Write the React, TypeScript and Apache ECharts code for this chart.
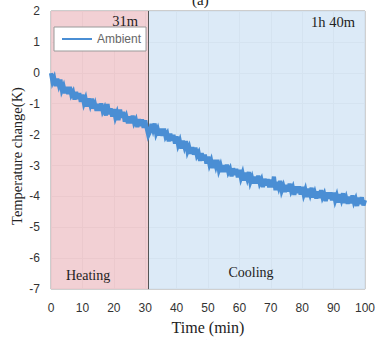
import React, { useEffect, useRef } from "react";
import * as echarts from "echarts";

const sampleStep = 0.5; // minutes between samples
const ambient: number[] = [
  -0.01, -0.29, -0.17, -0.43, -0.19, -0.39, -0.22, -0.56, -0.44, -0.66,
  -0.46, -0.69, -0.46, -0.71, -0.62, -0.87, -0.62, -0.85, -0.66, -0.94,
  -0.71, -0.98, -0.84, -1.09, -0.83, -1.02, -0.83, -1.16, -1.02, -1.23,
  -1.01, -1.23, -0.99, -1.24, -1.14, -1.38, -1.01, -1.34, -1.15, -1.42,
  -1.18, -1.44, -1.30, -1.53, -1.19, -1.45, -1.26, -1.58, -1.43, -1.63,
  -1.41, -1.63, -1.39, -1.62, -1.52, -1.76, -1.50, -1.72, -1.51, -1.78,
  -1.54, -1.80, -2.02, -1.91, -1.65, -1.83, -1.64, -1.96, -1.83, -2.03,
  -1.81, -2.04, -1.81, -2.06, -1.97, -2.22, -1.97, -2.20, -2.01, -2.29,
  -2.06, -2.33, -2.20, -2.45, -2.20, -2.39, -2.21, -2.54, -2.41, -2.62,
  -2.41, -2.65, -2.42, -2.68, -2.59, -2.85, -2.60, -2.84, -2.65, -2.94,
  -2.71, -2.97, -2.84, -3.08, -2.82, -3.01, -2.82, -3.14, -3.00, -3.21,
  -2.99, -3.21, -2.97, -3.21, -3.11, -3.35, -3.09, -3.31, -3.11, -3.38,
  -3.14, -3.40, -3.25, -3.49, -3.23, -3.41, -3.21, -3.53, -3.39, -3.58,
  -3.36, -3.58, -3.33, -3.57, -3.46, -3.70, -3.43, -3.65, -3.44, -3.71,
  -3.46, -3.71, -3.36, -3.80, -3.53, -3.70, -3.50, -3.81, -3.67, -3.86,
  -3.63, -3.84, -3.59, -3.82, -3.71, -3.95, -3.68, -3.89, -3.68, -3.94,
  -3.69, -3.94, -3.79, -4.02, -3.75, -3.92, -3.72, -4.03, -3.88, -4.07,
  -3.84, -4.05, -3.80, -4.03, -3.92, -4.15, -3.87, -4.08, -3.87, -4.13,
  -3.88, -4.13, -3.98, -4.20, -3.93, -4.10, -3.90, -4.21, -4.05, -4.24,
  -4.01, -4.22, -3.97, -4.19, -4.08, -4.31, -4.04, -4.25, -4.03, -4.29,
  -4.12,
];

const phaseSplit = 31; // minutes
const phases = [
  { name: "Heating", from: 0, to: phaseSplit, color: "rgba(240,200,205,0.85)", labelAt: [11.8, -6.56] },
  { name: "Cooling", from: phaseSplit, to: 100, color: "rgba(214,230,246,0.85)", labelAt: [63.7, -6.46] },
];
const durationLabels = [
  { text: "31m", at: [27.7, 1.67] },
  { text: "1h 40m", at: [96.8, 1.64] },
];

export default function App() {
  const ref = useRef<HTMLDivElement>(null);
  useEffect(() => {
    const chart = echarts.init(ref.current!, null, { renderer: "svg" });
    const serif = "'Liberation Serif', 'Times New Roman', serif";
    const sans = "'Liberation Sans', Arial, sans-serif";
    chart.setOption({
      animation: false,
      backgroundColor: "#fff",
      grid: {
        left: 51, right: 13, top: 11, bottom: 49,
        show: true, borderColor: "#9a9a9a", borderWidth: 1,
      },
      legend: {
        left: 54, top: 27, data: ["Ambient"],
        backgroundColor: "#fff", borderColor: "#9a9a9a", borderWidth: 1,
        padding: [6, 5, 6, 8], itemWidth: 30, itemHeight: 10, itemGap: 4,
        icon: "path://M0,4 L30,4 L30,6 L0,6 Z",
        textStyle: { fontFamily: sans, fontSize: 12, color: "#666" },
      },
      xAxis: {
        type: "value", min: 0, max: 100, interval: 10,
        name: "Time (min)", nameLocation: "middle", nameGap: 23,
        nameTextStyle: { fontFamily: serif, fontSize: 16, color: "#222", fontWeight: "normal" },
        axisLine: { show: false },
        axisTick: { show: false },
        axisLabel: { fontFamily: sans, fontSize: 12, color: "#333", margin: 13 },
        splitLine: { show: true, lineStyle: { color: "#d0d0d0", width: 1 } },
      },
      yAxis: {
        type: "value", min: -7, max: 2, interval: 1,
        axisLine: { show: false },
        axisTick: { show: false },
        axisLabel: { fontFamily: sans, fontSize: 12, color: "#333", margin: 11 },
        splitLine: { show: true, lineStyle: { color: "#d0d0d0", width: 1 } },
      },
      series: [
        {
          name: "Ambient",
          type: "line",
          showSymbol: false,
          data: ambient.map((v, i) => [i * sampleStep, v]),
          lineStyle: { color: "#4a8ed4", width: 4.2, join: "miter" },
          itemStyle: { color: "#4a8ed4" },
          z: 5,
          markArea: {
            silent: true,
            label: { show: false },
            data: phases.map((p) => [
              { xAxis: p.from, yAxis: -7, itemStyle: { color: p.color } },
              { xAxis: p.to, yAxis: 2 },
            ]),
          },
          markLine: {
            silent: true, symbol: "none",
            lineStyle: { color: "#555", width: 1, type: "solid" },
            label: { show: false },
            data: [{ xAxis: phaseSplit }],
          },
        },
        {
          type: "line",
          data: [],
          markPoint: {
            symbol: "rect", symbolSize: 0, silent: true,
            data: [
              ...durationLabels.map((d) => ({
                coord: d.at, value: d.text,
                label: { show: true, formatter: d.text, position: "left", distance: 0, fontFamily: serif, fontSize: 14.5, color: "#222" },
              })),
              ...phases.map((p) => ({
                coord: p.labelAt, value: p.name,
                label: { show: true, formatter: p.name, position: "inside", fontFamily: serif, fontSize: 14, color: "#222" },
              })),
            ],
          },
        },
      ],
      graphic: [
        {
          type: "text", x: 17, y: 156, rotation: Math.PI / 2,
          style: { text: "Temperature change(K)", font: `14.5px ${serif}`, fill: "#222", textAlign: "center", textVerticalAlign: "middle" },
        },
        { type: "text", left: 192, top: -8, style: { text: "(a)", font: `15px ${serif}`, fill: "#222" } },
        { type: "text", left: 202, top: 337, style: { text: "(b)", font: `15px ${serif}`, fill: "#222" } },
      ],
    });
    return () => chart.dispose();
  }, []);
  return <div ref={ref} style={{ width: 378, height: 340, position: "absolute", left: 0, top: 0 }} />;
}
